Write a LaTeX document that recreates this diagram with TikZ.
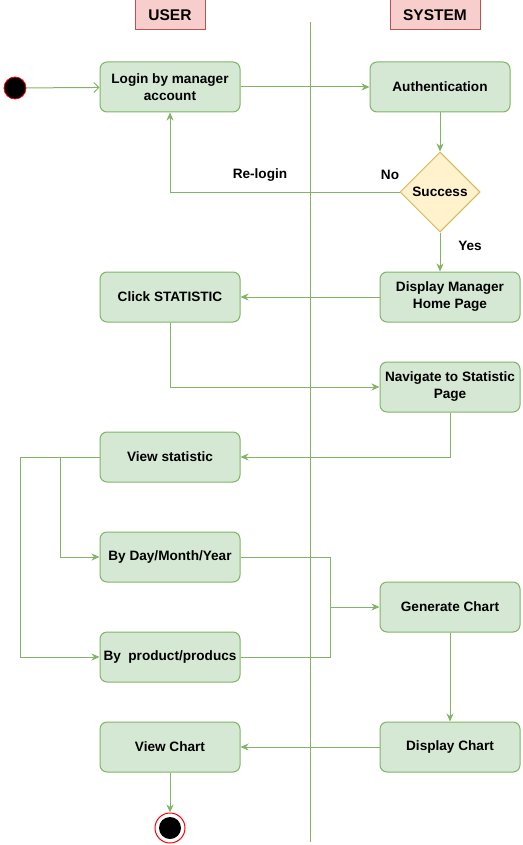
\documentclass[tikz,border=0pt]{standalone}
\usepackage{fontspec}
\setmainfont{Liberation Sans}
\usetikzlibrary{arrows.meta,shapes.geometric}
\definecolor{gfill}{HTML}{D5E8D4}
\definecolor{gline}{HTML}{82B366}
\definecolor{yfill}{HTML}{FFF2CC}
\definecolor{yline}{HTML}{D6B656}
\definecolor{rfill}{HTML}{F8CECC}
\definecolor{rline}{HTML}{B85450}
\tikzset{
  act/.style={draw=gline, fill=gfill, rounded corners=7pt, minimum width=140pt, minimum height=50pt, align=center, inner sep=1pt, font=\fontsize{13.6}{17}\selectfont\bfseries, line width=1pt},
  lane/.style={draw=rline, fill=rfill, minimum height=30pt, font=\fontsize{15.5}{18}\selectfont\bfseries, line width=1pt},
  lbl/.style={font=\fontsize{13.6}{17}\selectfont\bfseries},
  flow/.style={draw=gline, line width=1pt, -{Stealth[length=8pt,width=7pt,inset=2.5pt]}},
  link/.style={draw=gline, line width=1pt},
}
\begin{document}
\begin{tikzpicture}[x=1pt,y=-1pt]
\useasboundingbox (0,0) rectangle (522,845);
% lane headers
\node[lane, minimum width=70pt] (user) at (170,15) {USER};
\node[lane, minimum width=90pt] (sys) at (435,15) {SYSTEM};
\coordinate (laneTop) at (310,22);
\coordinate (laneBot) at (310,842);
\draw[link] (laneTop) -- (laneBot);
% start / end
\node[circle, fill=black, draw=red, line width=0.8pt, minimum size=22pt, inner sep=0pt] (start) at (15,88) {};
\node[circle, draw=red, line width=1pt, fill=white, minimum size=30pt, inner sep=0pt] (endo) at (170,828) {};
\node[circle, fill=black, minimum size=22pt, inner sep=0pt] (endi) at (170,828) {};
% activities
\node[act] (login) at (170,87) {Login by manager\\account};
\node[act] (auth) at (440,87) {Authentication};
\node[diamond, draw=yline, fill=yfill, minimum width=80pt, minimum height=80pt, inner sep=0pt, line width=1pt, font=\fontsize{13.6}{17}\selectfont\bfseries] (succ) at (440,192) {Success};
\node[act] (home) at (450,297) {Display Manager\\Home Page};
\node[act] (click) at (170,297) {Click STATISTIC};
\node[act] (nav) at (450,387) {Navigate to Statistic\\Page};
\node[act] (view) at (170,457) {View statistic};
\node[act] (day) at (170,557) {By Day/Month/Year};
\node[act] (prod) at (170,657) {By\ \ product/producs};
\node[act] (gen) at (450,607) {Generate Chart};
\node[act] (disp) at (450,747) {Display Chart};
\node[act] (vchart) at (170,747) {View Chart};
% labels
\node[lbl] (relogin) at (260,175) {Re-login};
\node[lbl] (no) at (390,175) {No};
\node[lbl] (yes) at (470,246) {Yes};
% helper coordinates
\coordinate (v1) at (60,457);
\coordinate (v2) at (20,457);
\coordinate (m1) at (330,557);
\coordinate (m2) at (330,657);
\coordinate (mj) at (330,607);
% edges
\draw[link, -{Straight Barb[length=5pt,width=10pt]}] (start) -- (login);
\draw[flow] (login) -- (auth);
\draw[flow] (auth) -- (succ);
\draw[flow] (succ.west) -| (login.south);
\draw[flow] (succ.south) -- (home.north -| succ.south);
\draw[flow] (home.west) -- (click.east);
\draw[flow] (click.south) |- (nav.west);
\draw[flow] (nav.south) |- (view.east);
\draw[flow] (view.west) -- (v1) |- (day.west);
\draw[flow] (view.west) -- (v2) |- (prod.west);
\draw[link] (day.east) -- (m1) -- (mj);
\draw[link] (prod.east) -- (m2) -- (mj);
\draw[flow] (mj) -- (gen.west);
\draw[flow] (gen) -- (disp);
\draw[flow] (disp) -- (vchart);
\draw[flow] (vchart) -- (endo);
\end{tikzpicture}
\end{document}
